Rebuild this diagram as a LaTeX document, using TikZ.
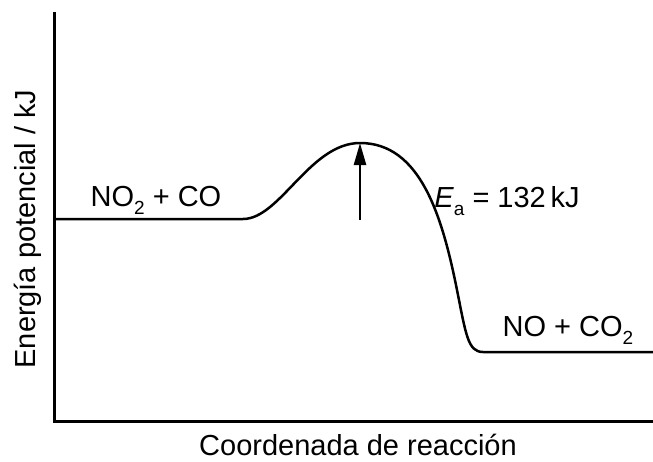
\documentclass[tikz,border=0pt]{standalone}
\usepackage{fontspec}
\setmainfont{Liberation Sans}
\usepackage{tikz}
\usetikzlibrary{arrows.meta}
\newcommand{\subidx}[1]{\raisebox{-0.28em}{\fontsize{19}{19}\selectfont #1}}

\begin{document}
\begin{tikzpicture}[x=1pt,y=-1pt,every node/.style={font=\fontsize{29}{32}\selectfont, inner sep=0pt}, every path/.style={line width=2.5pt}]
\useasboundingbox (0,0) rectangle (653,461);
\coordinate (O) at (54,421);
\coordinate (T) at (54,13);
\coordinate (R) at (653,421);
\coordinate (A) at (54,219);
\coordinate (B) at (243,219);
\coordinate (P) at (360,143);
\coordinate (I) at (457,290);
\coordinate (C) at (483,352);
\coordinate (D) at (653,352);
\coordinate (S) at (360,220);

\draw[line width=3pt, line cap=rect] (T) -- (O) -- (R);  % ejes
\draw (A) -- (B) .. controls (280,219) and (310,143) .. (P)
      .. controls (420,143) and (442,215) .. (I)
      .. controls (466,335) and (468,352) .. (C) -- (D);
\draw[-{Triangle[length=22pt,width=12pt]}] (S) -- (P);

\node[anchor=base] (react) at (156,206) {NO\subidx{2} + CO};
\node[anchor=base] (ea) at (507,207) {\textit{E}\subidx{a} = 132\,kJ};
\node[anchor=base] (prod) at (568,336) {NO + CO\subidx{2}};
\node[anchor=base] (xlab) at (358,455) {Coordenada de reacción};
\node[anchor=base, rotate=90] (ylab) at (35,229) {Energía potencial / kJ};
\end{tikzpicture}
\end{document}
